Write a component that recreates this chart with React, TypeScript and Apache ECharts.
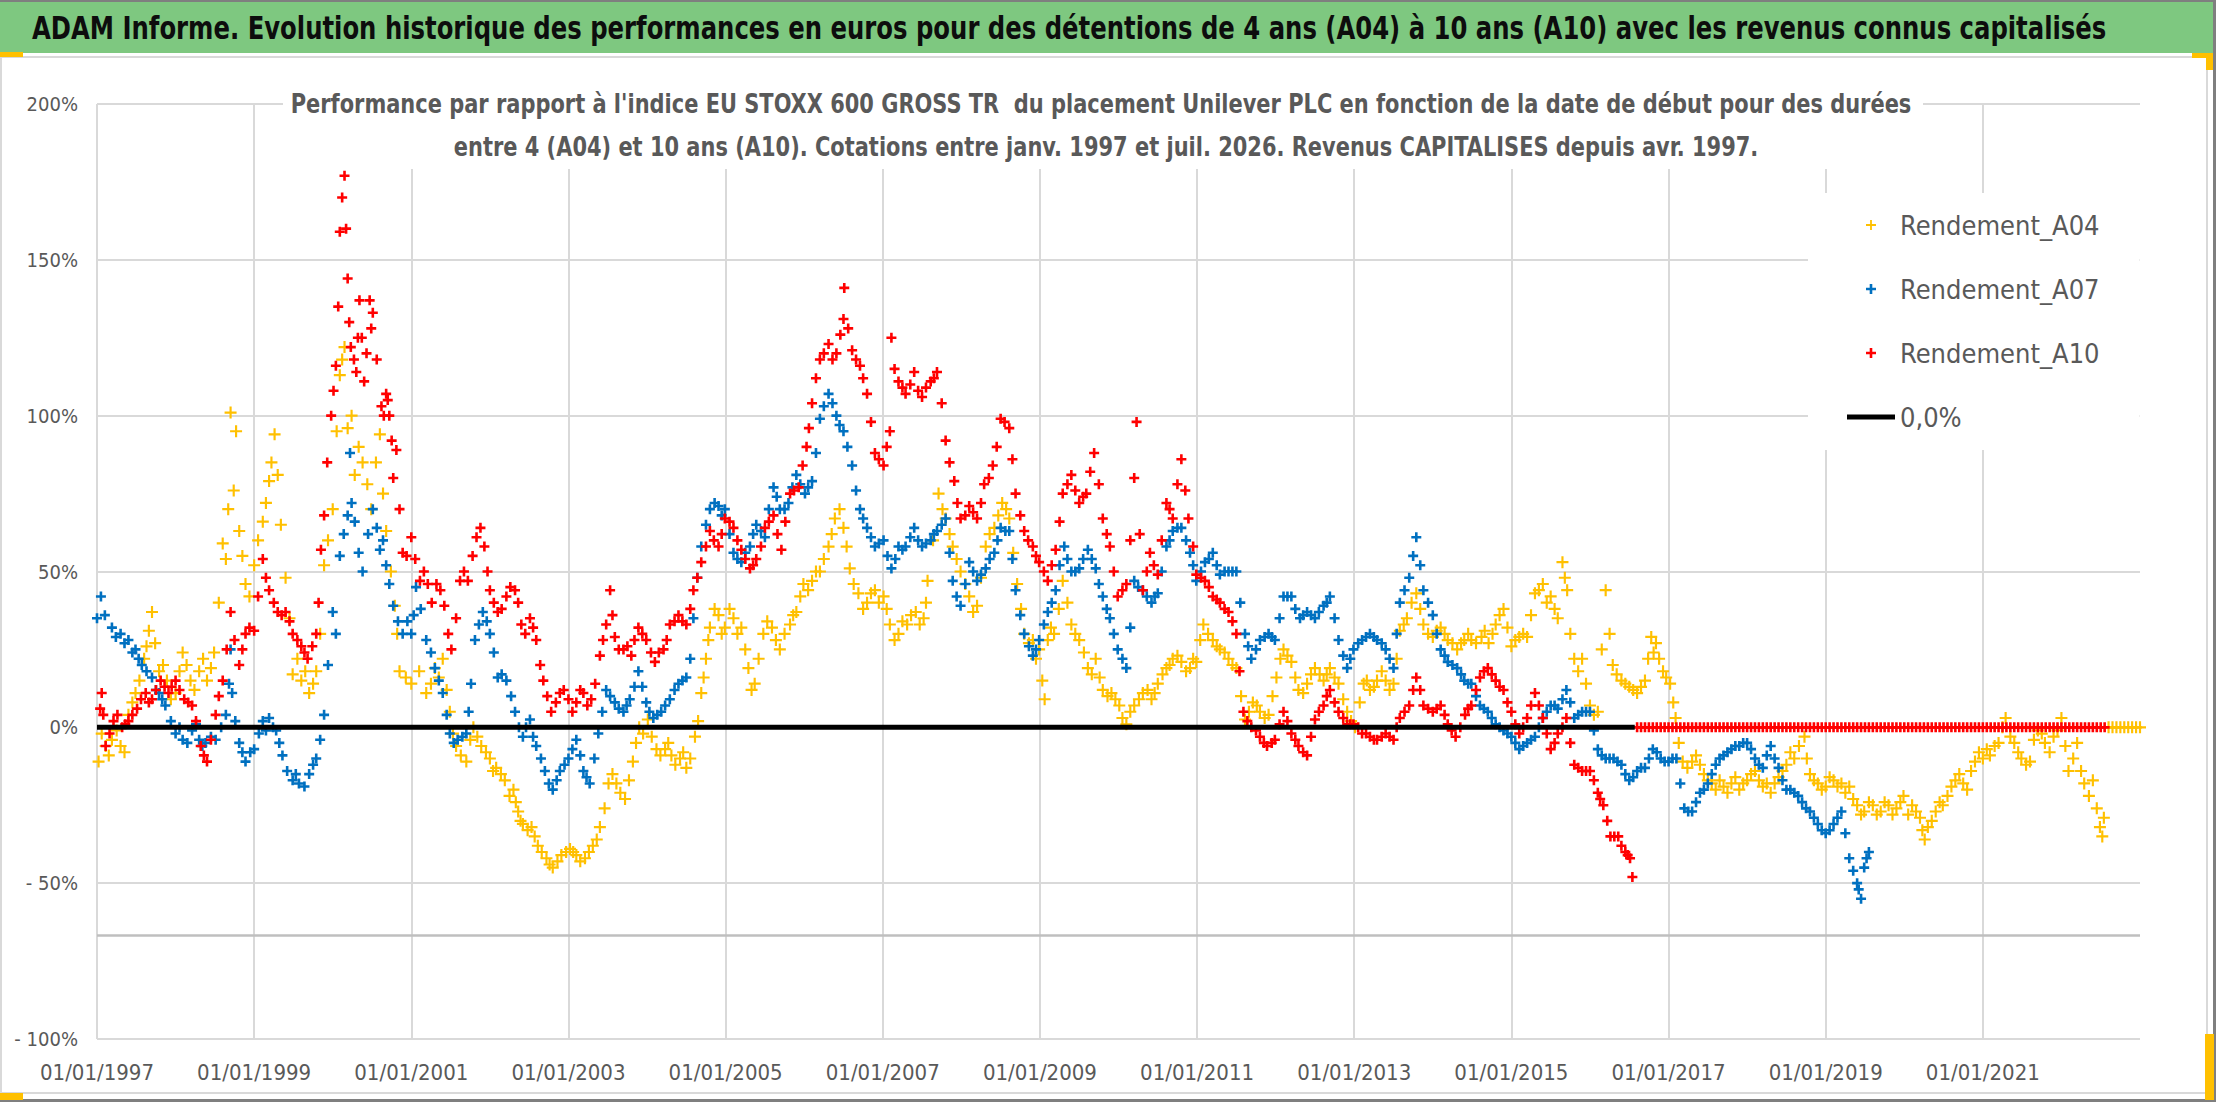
import { useRef, useEffect } from "react";
import * as echarts from "echarts";

const FONT = "'DejaVu Sans Condensed', 'Liberation Sans Narrow', 'Noto Sans', sans-serif";

const TITLE =
  "ADAM Informe. Evolution historique des performances en euros pour des détentions de 4 ans (A04) à 10 ans (A10) avec les revenus connus capitalisés";
const SUBTITLE_1 =
  "Performance par rapport à l'indice EU STOXX 600 GROSS TR  du placement Unilever PLC en fonction de la date de début pour des durées";
const SUBTITLE_2 =
  "entre 4 (A04) et 10 ans (A10). Cotations entre janv. 1997 et juil. 2026. Revenus CAPITALISES depuis avr. 1997.";

const SERIES_NAMES = ["Rendement_A04", "Rendement_A07", "Rendement_A10", "0,0%"];
const SERIES_COLORS = ["#FFC000", "#0070C0", "#FF0000", "#000000"];

// [année décimale, performance en %] : lecture du nuage (centre)
const A04_POINTS = [
  [1997.02, -11], [1997.11, -6], [1997.19, -4], [1997.3, -6], [1997.4, 4], [1997.49, 11], [1997.6, 22], [1997.66, 31],
  [1997.7, 37], [1997.79, 18], [1997.89, 15], [1998.0, 11], [1998.09, 24], [1998.19, 15], [1998.3, 18], [1998.4, 15],
  [1998.49, 24], [1998.6, 59], [1998.64, 54], [1998.7, 101], [1998.74, 76], [1998.81, 63], [1998.89, 46], [1999.0, 52],
  [1999.11, 66], [1999.19, 79], [1999.26, 94], [1999.3, 81], [1999.4, 48], [1999.49, 17], [1999.6, 15], [1999.7, 11],
  [1999.79, 18], [1999.89, 52], [2000.0, 70], [2000.09, 113], [2000.15, 122], [2000.19, 96], [2000.28, 81], [2000.38, 85],
  [2000.49, 70], [2000.6, 94], [2000.68, 63], [2000.79, 39], [2000.85, 18], [2001.0, 14], [2001.19, 11], [2001.3, 19],
  [2001.4, 22], [2001.49, 5], [2001.57, -6], [2001.7, -11], [2001.79, 0], [2001.89, -6], [2002.0, -10], [2002.08, -13],
  [2002.19, -17], [2002.3, -20], [2002.36, -27], [2002.42, -31], [2002.53, -32], [2002.61, -38], [2002.72, -42], [2002.8, -45],
  [2002.91, -41], [2003.02, -39], [2003.1, -41], [2003.21, -42], [2003.31, -38], [2003.4, -32], [2003.51, -18], [2003.61, -18],
  [2003.72, -23], [2003.82, -11], [2003.9, 0], [2004.01, 2.5], [2004.12, -7], [2004.23, -7], [2004.31, -9], [2004.42, -10],
  [2004.5, -13], [2004.61, -3], [2004.69, 11], [2004.75, 22], [2004.8, 32], [2004.91, 36], [2004.99, 32], [2005.1, 35],
  [2005.2, 32], [2005.29, 19], [2005.37, 14], [2005.48, 30], [2005.59, 32], [2005.69, 25], [2005.82, 33], [2005.9, 37],
  [2005.99, 46], [2006.1, 47], [2006.2, 50], [2006.31, 58], [2006.39, 67], [2006.5, 64], [2006.58, 51], [2006.69, 43],
  [2006.8, 40], [2006.9, 44], [2007.01, 42], [2007.09, 33], [2007.2, 30], [2007.31, 33], [2007.42, 37], [2007.52, 35],
  [2007.57, 47], [2007.71, 75], [2007.8, 67], [2007.89, 58], [2007.99, 50], [2008.1, 42], [2008.2, 39], [2008.31, 58],
  [2008.42, 64], [2008.52, 72], [2008.61, 67], [2008.71, 46], [2008.8, 30], [2008.91, 28], [2008.99, 25], [2009.06, 9],
  [2009.1, 28], [2009.18, 30], [2009.29, 47], [2009.4, 33], [2009.5, 28], [2009.61, 19], [2009.71, 22], [2009.8, 12],
  [2009.91, 11], [2010.01, 7], [2010.1, 1], [2010.2, 7], [2010.31, 11], [2010.42, 9], [2010.5, 14], [2010.61, 19],
  [2010.69, 22], [2010.8, 21], [2010.91, 19], [2010.99, 21], [2011.08, 33], [2011.2, 28], [2011.29, 25], [2011.4, 22],
  [2011.5, 19], [2011.61, 2.5], [2011.71, 8], [2011.8, 5], [2011.91, 4], [2012.01, 16], [2012.1, 25], [2012.2, 21],
  [2012.29, 12], [2012.4, 14], [2012.5, 19], [2012.61, 15], [2012.69, 19], [2012.8, 14], [2012.91, 5], [2013.01, 0],
  [2013.12, 14], [2013.2, 12], [2013.29, 15], [2013.4, 15], [2013.5, 14], [2013.58, 31], [2013.67, 35], [2013.79, 43],
  [2013.88, 33], [2014.0, 29], [2014.1, 32], [2014.19, 28], [2014.31, 25], [2014.4, 28], [2014.49, 28], [2014.62, 29],
  [2014.71, 27], [2014.8, 33], [2014.9, 38], [2015.0, 26], [2015.1, 29], [2015.2, 29], [2015.3, 43], [2015.4, 46],
  [2015.5, 42], [2015.59, 35], [2015.65, 53], [2015.71, 44], [2015.8, 22], [2015.9, 22], [2016.0, 7], [2016.1, 5],
  [2016.2, 44], [2016.29, 20], [2016.4, 15], [2016.5, 13], [2016.6, 11], [2016.7, 15], [2016.78, 29], [2016.84, 27],
  [2016.93, 18], [2017.02, 14], [2017.09, 3], [2017.18, -11], [2017.3, -11], [2017.4, -12], [2017.5, -17], [2017.6, -20],
  [2017.7, -19], [2017.8, -18], [2017.9, -20], [2018.0, -17], [2018.1, -14], [2018.2, -19], [2018.3, -21], [2018.4, -16],
  [2018.5, -12], [2018.6, -10], [2018.73, -3], [2018.8, -15], [2018.9, -18], [2019.0, -19], [2019.1, -17], [2019.2, -18],
  [2019.3, -19], [2019.4, -25], [2019.49, -27], [2019.6, -25], [2019.7, -27], [2019.8, -25], [2019.9, -26], [2019.99, -22],
  [2020.1, -25], [2020.2, -29], [2020.26, -36], [2020.3, -32], [2020.4, -27], [2020.49, -25], [2020.6, -19], [2020.7, -15],
  [2020.8, -20], [2020.9, -11], [2021.0, -10], [2021.09, -9], [2021.2, -5], [2021.29, 3], [2021.4, -5], [2021.49, -10],
  [2021.6, -11], [2021.7, -1], [2021.79, -5], [2021.9, -3], [2022.0, 3], [2022.09, -14], [2022.2, -5], [2022.29, -18],
  [2022.4, -17], [2022.49, -32], [2022.54, -29],
];
// lecture des bords du nuage, entre les points ci-dessus
const A04_SPREAD = [
  [1997.06, -2], [1997.15, -9], [1997.25, -1], [1997.35, -8], [1997.45, 8], [1997.54, 15], [1997.63, 26], [1997.74, 27],
  [1997.84, 20], [1997.94, 9], [1998.05, 18], [1998.14, 20], [1998.24, 12], [1998.35, 22], [1998.45, 19], [1998.55, 40],
  [1998.67, 70], [1998.77, 95], [1998.85, 55], [1998.94, 42], [1999.05, 60], [1999.15, 72], [1999.22, 85], [1999.34, 65],
  [1999.45, 35], [1999.55, 22], [1999.65, 18], [1999.75, 14], [1999.84, 30], [1999.94, 60], [2000.05, 95], [2000.12, 118],
  [2000.24, 100], [2000.33, 90], [2000.44, 78], [2000.55, 85], [2000.64, 75], [2000.74, 50], [2000.82, 30], [2000.93, 16],
  [2001.1, 18], [2001.25, 14], [2001.35, 16], [2001.45, 12], [2001.53, -2], [2001.63, -9], [2001.75, -4], [2001.84, -3],
  [2001.95, -8], [2002.04, -14], [2002.14, -15], [2002.25, -22], [2002.33, -24], [2002.39, -30], [2002.48, -33], [2002.57, -35],
  [2002.66, -40], [2002.76, -44], [2002.86, -43], [2002.97, -40], [2003.06, -40], [2003.15, -43], [2003.26, -40], [2003.36, -36],
  [2003.46, -26], [2003.56, -15], [2003.66, -21], [2003.77, -17], [2003.86, -5], [2003.95, -2], [2004.06, -3], [2004.17, -9],
  [2004.27, -5], [2004.36, -12], [2004.46, -8], [2004.55, -10], [2004.65, 2], [2004.72, 16], [2004.78, 28], [2004.86, 38],
  [2004.95, 30], [2005.05, 38], [2005.15, 30], [2005.25, 25], [2005.33, 12], [2005.42, 22], [2005.53, 34], [2005.64, 28],
  [2005.75, 30], [2005.86, 36], [2005.95, 42], [2006.05, 44], [2006.15, 50], [2006.25, 54], [2006.35, 62], [2006.45, 70],
  [2006.54, 58], [2006.63, 46], [2006.75, 38], [2006.85, 43], [2006.95, 40], [2007.05, 38], [2007.15, 28], [2007.25, 34],
  [2007.36, 36], [2007.47, 33], [2007.55, 40], [2007.64, 60], [2007.76, 70], [2007.85, 62], [2007.94, 54], [2008.05, 46],
  [2008.15, 37], [2008.25, 48], [2008.36, 62], [2008.47, 68], [2008.57, 70], [2008.66, 56], [2008.76, 38], [2008.86, 27],
  [2008.95, 22], [2009.03, 15], [2009.14, 32], [2009.24, 38], [2009.35, 40], [2009.45, 30], [2009.56, 24], [2009.66, 17],
  [2009.76, 16], [2009.86, 10], [2009.96, 9], [2010.05, 3], [2010.15, 5], [2010.26, 9], [2010.37, 12], [2010.46, 11],
  [2010.56, 17], [2010.65, 20], [2010.75, 23], [2010.86, 18], [2010.95, 22], [2011.04, 28], [2011.14, 30], [2011.25, 26],
  [2011.35, 24], [2011.45, 20], [2011.56, 10], [2011.66, 5], [2011.76, 7], [2011.86, 3], [2011.96, 10], [2012.06, 22],
  [2012.15, 23], [2012.25, 16], [2012.35, 11], [2012.45, 17], [2012.56, 17], [2012.65, 17], [2012.75, 16], [2012.86, 9],
  [2012.96, 2], [2013.07, 8], [2013.16, 15], [2013.25, 13], [2013.35, 18], [2013.45, 12], [2013.54, 22], [2013.63, 33],
  [2013.73, 40], [2013.84, 38], [2013.94, 30], [2014.05, 31], [2014.15, 30], [2014.25, 27], [2014.36, 27], [2014.45, 30],
  [2014.55, 27], [2014.66, 31], [2014.76, 30], [2014.85, 36], [2014.95, 32], [2015.05, 28], [2015.15, 30], [2015.25, 36],
  [2015.35, 44], [2015.45, 40], [2015.55, 38], [2015.68, 48], [2015.75, 30], [2015.85, 18], [2015.95, 14], [2016.05, 4],
  [2016.15, 25], [2016.25, 30], [2016.34, 17], [2016.45, 14], [2016.55, 12], [2016.65, 13], [2016.74, 22], [2016.81, 24],
  [2016.88, 22], [2016.97, 16], [2017.06, 8], [2017.13, -5], [2017.24, -13], [2017.35, -9], [2017.45, -15], [2017.55, -18],
  [2017.65, -17], [2017.75, -21], [2017.85, -16], [2017.95, -18], [2018.05, -15], [2018.15, -17], [2018.25, -18], [2018.35, -18],
  [2018.45, -14], [2018.55, -8], [2018.66, -6], [2018.76, -10], [2018.85, -17], [2018.95, -20], [2019.05, -16], [2019.15, -19],
  [2019.25, -21], [2019.35, -23], [2019.45, -28], [2019.55, -24], [2019.65, -28], [2019.75, -24], [2019.85, -28], [2019.95, -24],
  [2020.05, -28], [2020.15, -27], [2020.23, -33], [2020.35, -30], [2020.45, -24], [2020.55, -22], [2020.65, -17], [2020.75, -18],
  [2020.85, -14], [2020.95, -8], [2021.05, -7], [2021.15, -6], [2021.25, 0], [2021.35, -3], [2021.45, -8], [2021.55, -12],
  [2021.65, -4], [2021.75, -2], [2021.85, -8], [2021.95, -1], [2022.05, -6], [2022.15, -10], [2022.25, -14], [2022.35, -22],
  [2022.45, -26], [2022.52, -35],
];
const A04_ZERO_YEARS = [2022.6, 2022.65, 2022.7, 2022.75, 2022.8, 2022.85, 2022.9, 2022.95, 2023.0];

const A07_POINTS = [
  [1997.0, 35], [1997.05, 42], [1997.19, 32], [1997.3, 30], [1997.4, 28], [1997.49, 25], [1997.57, 20], [1997.7, 16],
  [1997.79, 11], [1997.87, 7], [1998.0, -2], [1998.09, -4], [1998.21, -1], [1998.3, -4], [1998.38, -5], [1998.51, -4],
  [1998.64, 4], [1998.7, 25], [1998.72, 11], [1998.81, -5], [1998.89, -11], [1999.0, -7], [1999.11, 2], [1999.19, 3],
  [1999.28, -1], [1999.36, -9], [1999.49, -17], [1999.57, -18], [1999.7, -15], [1999.79, -10], [1999.89, 4], [2000.0, 37],
  [2000.09, 55], [2000.19, 68], [2000.28, 66], [2000.38, 50], [2000.51, 70], [2000.6, 57], [2000.68, 52], [2000.77, 39],
  [2000.89, 30], [2001.0, 30], [2001.06, 45], [2001.19, 28], [2001.3, 19], [2001.4, 11], [2001.49, -2], [2001.59, -4],
  [2001.7, -2], [2001.76, 14], [2001.81, 28], [2001.91, 37], [2002.0, 30], [2002.1, 16], [2002.21, 15], [2002.32, 5],
  [2002.42, -3], [2002.51, 2.5], [2002.59, -6], [2002.7, -14], [2002.8, -20], [2002.89, -14], [2003.0, -10], [2003.1, -4],
  [2003.19, -14], [2003.27, -18], [2003.38, -2], [2003.48, 12], [2003.59, 8], [2003.7, 5], [2003.78, 9], [2003.89, 18],
  [2003.99, 8], [2004.08, 3], [2004.18, 5], [2004.29, 9], [2004.4, 14], [2004.5, 16], [2004.59, 35], [2004.69, 58],
  [2004.8, 70], [2004.91, 71], [2004.99, 70], [2005.1, 56], [2005.2, 53], [2005.31, 58], [2005.39, 65], [2005.5, 61],
  [2005.61, 77], [2005.69, 70], [2005.8, 72], [2005.9, 81], [2006.01, 75], [2006.1, 79], [2006.2, 99], [2006.31, 107],
  [2006.41, 100], [2006.5, 95], [2006.61, 84], [2006.71, 70], [2006.8, 64], [2006.9, 58], [2007.01, 60], [2007.11, 51],
  [2007.2, 58], [2007.29, 58], [2007.4, 64], [2007.5, 58], [2007.61, 60], [2007.69, 63], [2007.8, 67], [2007.89, 47],
  [2007.99, 39], [2008.1, 53], [2008.2, 47], [2008.31, 51], [2008.42, 56], [2008.5, 64], [2008.61, 63], [2008.69, 44],
  [2008.8, 30], [2008.91, 23], [2008.99, 28], [2009.1, 37], [2009.2, 44], [2009.31, 58], [2009.4, 50], [2009.5, 51],
  [2009.61, 57], [2009.71, 51], [2009.8, 42], [2009.89, 35], [2009.99, 25], [2010.1, 19], [2010.2, 47], [2010.31, 44],
  [2010.42, 40], [2010.5, 43], [2010.61, 58], [2010.69, 63], [2010.8, 64], [2010.91, 56], [2010.99, 47], [2011.1, 53],
  [2011.2, 56], [2011.29, 49], [2011.4, 50], [2011.5, 50], [2011.61, 30], [2011.69, 22], [2011.8, 28], [2011.91, 30],
  [2011.99, 28], [2012.1, 42], [2012.2, 42], [2012.31, 35], [2012.4, 37], [2012.5, 35], [2012.61, 39], [2012.69, 42],
  [2012.8, 28], [2012.91, 19], [2012.99, 25], [2013.1, 28], [2013.2, 30], [2013.29, 28], [2013.4, 25], [2013.5, 19],
  [2013.58, 40], [2013.7, 48], [2013.79, 61], [2013.88, 44], [2014.0, 36], [2014.1, 25], [2014.19, 21], [2014.31, 19],
  [2014.4, 15], [2014.49, 14], [2014.6, 7], [2014.7, 5], [2014.8, 1], [2014.9, -1], [2015.0, -3], [2015.1, -7],
  [2015.2, -5], [2015.3, -3], [2015.4, 3], [2015.5, 7], [2015.59, 6], [2015.7, 12], [2015.8, 3], [2015.9, 5],
  [2016.0, 5], [2016.1, -7], [2016.2, -10], [2016.3, -10], [2016.4, -12], [2016.5, -17], [2016.6, -14], [2016.7, -13],
  [2016.8, -7], [2016.9, -10], [2017.0, -11], [2017.1, -10], [2017.2, -26], [2017.3, -27], [2017.4, -21], [2017.5, -18],
  [2017.6, -12], [2017.7, -9], [2017.8, -7], [2017.9, -6], [2018.0, -5], [2018.1, -10], [2018.2, -13], [2018.3, -6],
  [2018.4, -13], [2018.5, -20], [2018.6, -21], [2018.7, -24], [2018.8, -27], [2018.9, -31], [2019.0, -34], [2019.1, -31],
  [2019.2, -27], [2019.3, -42], [2019.4, -50], [2019.45, -55], [2019.49, -45], [2019.55, -40],
];
const A07_SPREAD = [
  [1997.1, 36], [1997.24, 29], [1997.35, 27], [1997.45, 24], [1997.53, 22], [1997.63, 18], [1997.75, 12], [1997.83, 9],
  [1997.94, 2], [1998.05, 0], [1998.15, -5], [1998.26, 1], [1998.34, -6], [1998.45, -3], [1998.58, 0], [1998.68, 14],
  [1998.76, 2], [1998.85, -8], [1998.95, -8], [1999.06, -2], [1999.15, -1], [1999.24, 0], [1999.32, -5], [1999.42, -14],
  [1999.53, -15], [1999.64, -19], [1999.75, -12], [1999.84, -4], [1999.94, 20], [2000.04, 30], [2000.14, 62], [2000.22, 88],
  [2000.24, 72], [2000.33, 56], [2000.45, 62], [2000.56, 64], [2000.64, 60], [2000.72, 46], [2000.83, 34], [2000.95, 34],
  [2001.03, 36], [2001.12, 38], [2001.25, 24], [2001.35, 15], [2001.45, 4], [2001.54, -5], [2001.65, -3], [2001.73, 5],
  [2001.86, 33], [2001.96, 34], [2002.05, 24], [2002.15, 17], [2002.27, 10], [2002.37, 0], [2002.46, 0], [2002.55, -3],
  [2002.65, -10], [2002.75, -18], [2002.85, -17], [2002.95, -12], [2003.05, -7], [2003.15, -9], [2003.23, -16], [2003.33, -10],
  [2003.43, 5], [2003.53, 10], [2003.64, 6], [2003.74, 7], [2003.84, 13], [2003.94, 13], [2004.03, 5], [2004.13, 4],
  [2004.23, 7], [2004.35, 12], [2004.45, 15], [2004.55, 22], [2004.64, 48], [2004.75, 65], [2004.86, 72], [2004.95, 68],
  [2005.05, 62], [2005.15, 54], [2005.25, 56], [2005.35, 62], [2005.45, 63], [2005.55, 70], [2005.65, 74], [2005.75, 70],
  [2005.85, 77], [2005.95, 78], [2006.05, 77], [2006.15, 88], [2006.25, 103], [2006.36, 104], [2006.45, 97], [2006.55, 90],
  [2006.66, 76], [2006.75, 67], [2006.85, 61], [2006.95, 59], [2007.06, 55], [2007.16, 54], [2007.25, 57], [2007.35, 61],
  [2007.45, 60], [2007.55, 59], [2007.65, 62], [2007.75, 65], [2007.85, 56], [2007.94, 42], [2008.05, 46], [2008.15, 50],
  [2008.25, 49], [2008.36, 54], [2008.46, 60], [2008.56, 63], [2008.65, 54], [2008.75, 36], [2008.86, 26], [2008.95, 25],
  [2009.05, 33], [2009.15, 40], [2009.25, 52], [2009.35, 54], [2009.45, 50], [2009.55, 54], [2009.66, 54], [2009.75, 46],
  [2009.85, 38], [2009.94, 30], [2010.05, 22], [2010.15, 32], [2010.25, 45], [2010.36, 42], [2010.46, 42], [2010.55, 50],
  [2010.65, 60], [2010.75, 64], [2010.86, 60], [2010.95, 52], [2011.05, 50], [2011.15, 54], [2011.25, 52], [2011.35, 50],
  [2011.45, 50], [2011.55, 40], [2011.65, 26], [2011.75, 25], [2011.86, 29], [2011.95, 29], [2012.05, 35], [2012.15, 42],
  [2012.25, 38], [2012.35, 36], [2012.45, 36], [2012.55, 37], [2012.65, 40], [2012.75, 35], [2012.86, 23], [2012.95, 22],
  [2013.05, 27], [2013.15, 29], [2013.25, 29], [2013.35, 27], [2013.45, 22], [2013.54, 30], [2013.64, 44], [2013.75, 55],
  [2013.84, 52], [2013.94, 40], [2014.05, 30], [2014.15, 23], [2014.25, 20], [2014.36, 17], [2014.45, 14], [2014.55, 10],
  [2014.65, 6], [2014.75, 3], [2014.85, 0], [2014.95, -2], [2015.05, -5], [2015.15, -6], [2015.25, -4], [2015.35, 0],
  [2015.45, 5], [2015.55, 7], [2015.65, 9], [2015.75, 8], [2015.85, 4], [2015.95, 5], [2016.05, -1], [2016.15, -9],
  [2016.25, -10], [2016.35, -11], [2016.45, -15], [2016.55, -16], [2016.65, -13], [2016.75, -10], [2016.85, -8], [2016.95, -11],
  [2017.05, -10], [2017.15, -18], [2017.25, -27], [2017.35, -24], [2017.45, -20], [2017.55, -15], [2017.65, -10], [2017.75, -8],
  [2017.85, -6], [2017.95, -5], [2018.05, -7], [2018.15, -12], [2018.25, -9], [2018.35, -10], [2018.45, -17], [2018.55, -20],
  [2018.65, -22], [2018.75, -26], [2018.85, -29], [2018.95, -33], [2019.05, -33], [2019.15, -29], [2019.25, -34], [2019.35, -46],
  [2019.42, -52], [2019.52, -42],
];

const A10_POINTS = [
  [1997.04, 6], [1997.06, 11], [1997.11, -6], [1997.21, 2], [1997.32, 0], [1997.4, 2], [1997.51, 6], [1997.62, 11],
  [1997.7, 9], [1997.81, 15], [1997.91, 11], [1998.0, 15], [1998.11, 9], [1998.21, 7], [1998.32, -6], [1998.4, -11],
  [1998.51, 4], [1998.6, 15], [1998.7, 37], [1998.81, 20], [1998.89, 30], [1999.0, 31], [1999.11, 54], [1999.19, 44],
  [1999.3, 37], [1999.4, 37], [1999.49, 30], [1999.6, 26], [1999.68, 22], [1999.79, 30], [1999.85, 57], [1999.89, 68],
  [1999.98, 100], [2000.04, 116], [2000.09, 159], [2000.15, 177], [2000.19, 144], [2000.23, 122], [2000.3, 114], [2000.34, 137],
  [2000.4, 111], [2000.47, 137], [2000.51, 133], [2000.62, 103], [2000.68, 107], [2000.72, 100], [2000.77, 80], [2000.81, 89],
  [2000.89, 56], [2001.0, 61], [2001.11, 47], [2001.21, 46], [2001.32, 46], [2001.42, 39], [2001.51, 25], [2001.62, 47],
  [2001.72, 47], [2001.83, 61], [2001.93, 58], [2002.0, 44], [2002.1, 37], [2002.21, 42], [2002.32, 44], [2002.4, 33],
  [2002.51, 35], [2002.59, 28], [2002.68, 15], [2002.78, 5], [2002.89, 11], [2003.0, 9], [2003.1, 8], [2003.19, 11],
  [2003.29, 9], [2003.4, 23], [2003.48, 33], [2003.53, 44], [2003.59, 29], [2003.7, 25], [2003.8, 23], [2003.89, 32],
  [2003.99, 28], [2004.1, 21], [2004.21, 25], [2004.29, 33], [2004.4, 36], [2004.5, 33], [2004.59, 44], [2004.69, 53],
  [2004.8, 63], [2004.91, 58], [2004.99, 67], [2005.1, 64], [2005.2, 57], [2005.31, 51], [2005.39, 54], [2005.5, 64],
  [2005.61, 68], [2005.71, 57], [2005.82, 75], [2005.93, 77], [2006.03, 90], [2006.1, 104], [2006.2, 118], [2006.31, 123],
  [2006.41, 120], [2006.5, 131], [2006.51, 141], [2006.61, 121], [2006.71, 116], [2006.8, 107], [2006.9, 88], [2007.01, 84],
  [2007.09, 95], [2007.11, 125], [2007.2, 111], [2007.29, 107], [2007.4, 114], [2007.5, 106], [2007.61, 111], [2007.69, 114],
  [2007.8, 92], [2007.91, 79], [2007.99, 67], [2008.1, 71], [2008.2, 67], [2008.29, 78], [2008.4, 84], [2008.5, 99],
  [2008.61, 96], [2008.69, 75], [2008.8, 63], [2008.91, 58], [2008.99, 53], [2009.1, 47], [2009.2, 57], [2009.29, 75],
  [2009.4, 81], [2009.5, 72], [2009.59, 75], [2009.69, 88], [2009.8, 67], [2009.89, 58], [2009.99, 42], [2010.1, 46],
  [2010.2, 80], [2010.23, 98], [2010.31, 44], [2010.4, 56], [2010.5, 49], [2010.61, 72], [2010.69, 67], [2010.8, 86],
  [2010.89, 67], [2010.99, 49], [2011.1, 47], [2011.2, 42], [2011.29, 40], [2011.4, 37], [2011.5, 30], [2011.59, 5],
  [2011.69, 0], [2011.8, -3], [2011.89, -6], [2011.99, -4], [2012.1, 5], [2012.2, -2], [2012.29, -6], [2012.4, -9],
  [2012.5, 2.5], [2012.61, 7], [2012.69, 12], [2012.8, 5], [2012.91, 1], [2012.99, 1], [2013.1, -2], [2013.2, -3],
  [2013.29, -4], [2013.4, -2], [2013.5, -4], [2013.58, 3], [2013.7, 7], [2013.79, 16], [2013.88, 7], [2014.0, 5],
  [2014.1, 7], [2014.19, 1], [2014.29, -3], [2014.41, 4], [2014.49, 7], [2014.6, 16], [2014.7, 19], [2014.8, 15],
  [2014.9, 12], [2015.0, 5], [2015.1, -2], [2015.2, 3], [2015.3, 11], [2015.4, 3], [2015.5, -7], [2015.59, -2],
  [2015.7, 3], [2015.8, -12], [2015.9, -14], [2016.0, -14], [2016.1, -21], [2016.17, -25], [2016.26, -35], [2016.36, -35],
  [2016.45, -40], [2016.51, -42], [2016.54, -48],
];
const A10_SPREAD = [
  [1997.08, 4], [1997.16, -2], [1997.26, 4], [1997.36, 1], [1997.45, 4], [1997.56, 9], [1997.66, 8], [1997.75, 12],
  [1997.86, 13], [1997.95, 13], [1998.05, 12], [1998.16, 8], [1998.26, 2], [1998.36, -9], [1998.45, -4], [1998.55, 10],
  [1998.65, 25], [1998.75, 28], [1998.85, 25], [1998.94, 32], [1999.05, 42], [1999.15, 48], [1999.25, 40], [1999.35, 36],
  [1999.45, 34], [1999.55, 28], [1999.64, 24], [1999.74, 26], [1999.82, 40], [1999.93, 85], [2000.01, 108], [2000.07, 135],
  [2000.12, 170], [2000.17, 160], [2000.21, 130], [2000.27, 118], [2000.32, 125], [2000.37, 125], [2000.43, 120], [2000.49, 128],
  [2000.56, 118], [2000.65, 100], [2000.7, 105], [2000.75, 92], [2000.85, 70], [2000.94, 55], [2001.05, 54], [2001.16, 50],
  [2001.26, 40], [2001.37, 44], [2001.47, 30], [2001.57, 35], [2001.67, 50], [2001.78, 55], [2001.88, 64], [2001.97, 50],
  [2002.05, 40], [2002.15, 38], [2002.26, 45], [2002.36, 40], [2002.45, 30], [2002.55, 32], [2002.64, 20], [2002.73, 10],
  [2002.84, 8], [2002.94, 12], [2003.05, 5], [2003.15, 12], [2003.24, 7], [2003.34, 14], [2003.44, 28], [2003.56, 36],
  [2003.64, 25], [2003.75, 26], [2003.84, 28], [2003.94, 30], [2004.05, 24], [2004.15, 24], [2004.25, 28], [2004.35, 34],
  [2004.45, 34], [2004.55, 38], [2004.64, 48], [2004.75, 58], [2004.85, 60], [2004.95, 62], [2005.05, 66], [2005.15, 60],
  [2005.25, 54], [2005.35, 52], [2005.45, 58], [2005.55, 66], [2005.66, 62], [2005.76, 66], [2005.87, 76], [2005.98, 84],
  [2006.06, 96], [2006.15, 112], [2006.25, 120], [2006.36, 118], [2006.46, 126], [2006.56, 128], [2006.66, 118], [2006.75, 112],
  [2006.85, 98], [2006.95, 86], [2007.05, 90], [2007.15, 115], [2007.25, 109], [2007.35, 110], [2007.45, 108], [2007.55, 109],
  [2007.65, 112], [2007.75, 104], [2007.85, 85], [2007.95, 72], [2008.05, 68], [2008.15, 69], [2008.25, 72], [2008.35, 80],
  [2008.45, 90], [2008.55, 98], [2008.65, 86], [2008.75, 68], [2008.85, 60], [2008.95, 55], [2009.05, 50], [2009.15, 52],
  [2009.25, 66], [2009.35, 78], [2009.45, 76], [2009.55, 74], [2009.64, 82], [2009.75, 78], [2009.85, 62], [2009.94, 50],
  [2010.05, 44], [2010.15, 60], [2010.27, 62], [2010.36, 50], [2010.45, 52], [2010.55, 60], [2010.65, 70], [2010.75, 78],
  [2010.85, 76], [2010.95, 58], [2011.05, 48], [2011.15, 45], [2011.25, 41], [2011.35, 38], [2011.45, 34], [2011.54, 18],
  [2011.64, 2], [2011.75, -1], [2011.85, -5], [2011.95, -5], [2012.05, 1], [2012.15, 2], [2012.25, -4], [2012.35, -8],
  [2012.45, -3], [2012.55, 5], [2012.65, 10], [2012.75, 8], [2012.86, 3], [2012.95, 1], [2013.05, 0], [2013.15, -2],
  [2013.25, -4], [2013.35, -3], [2013.45, -3], [2013.54, 0], [2013.64, 5], [2013.75, 12], [2013.84, 12], [2013.94, 6],
  [2014.05, 6], [2014.15, 4], [2014.24, -1], [2014.35, 0], [2014.45, 6], [2014.55, 12], [2014.65, 18], [2014.75, 17],
  [2014.85, 13], [2014.95, 8], [2015.05, 1], [2015.15, 0], [2015.25, 7], [2015.35, 7], [2015.45, -2], [2015.55, -5],
  [2015.65, 0], [2015.75, -5], [2015.85, -13], [2015.95, -14], [2016.05, -17], [2016.13, -23], [2016.22, -30], [2016.31, -35],
  [2016.4, -38], [2016.48, -41],
];
const A10_ZERO_YEARS = [
  2016.6, 2016.65, 2016.7, 2016.75, 2016.8, 2016.85, 2016.9, 2016.95, 2017.0, 2017.05, 2017.1, 2017.15, 2017.2, 2017.25,
  2017.3, 2017.35, 2017.4, 2017.45, 2017.5, 2017.55, 2017.6, 2017.65, 2017.7, 2017.75, 2017.8, 2017.85, 2017.9, 2017.95,
  2018.0, 2018.05, 2018.1, 2018.15, 2018.2, 2018.25, 2018.3, 2018.35, 2018.4, 2018.45, 2018.5, 2018.55, 2018.6, 2018.65,
  2018.7, 2018.75, 2018.8, 2018.85, 2018.9, 2018.95, 2019.0, 2019.05, 2019.1, 2019.15, 2019.2, 2019.25, 2019.3, 2019.35,
  2019.4, 2019.45, 2019.5, 2019.55, 2019.6, 2019.65, 2019.7, 2019.75, 2019.8, 2019.85, 2019.9, 2019.95, 2020.0, 2020.05,
  2020.1, 2020.15, 2020.2, 2020.25, 2020.3, 2020.35, 2020.4, 2020.45, 2020.5, 2020.55, 2020.6, 2020.65, 2020.7, 2020.75,
  2020.8, 2020.85, 2020.9, 2020.95, 2021.0, 2021.05, 2021.1, 2021.15, 2021.2, 2021.25, 2021.3, 2021.35, 2021.4, 2021.45,
  2021.5, 2021.55, 2021.6, 2021.65, 2021.7, 2021.75, 2021.8, 2021.85, 2021.9, 2021.95, 2022.0, 2022.05, 2022.1, 2022.15,
  2022.2, 2022.25, 2022.3, 2022.35, 2022.4, 2022.45, 2022.5, 2022.55,
];

// ligne 0,0% (fin = dernière date A10)
const ZERO_LINE = [[1997, 0], [2016.57, 0]];
// ligne grise horizontale du bas
const AXIS_CROSS = -66.7;

const PLUS_THIN = "path://M4.1,0H5.9V4.1H10V5.9H5.9V10H4.1V5.9H0V4.1H4.1Z";
const PLUS_BOLD = "path://M3.7,0H6.3V3.7H10V6.3H6.3V10H3.7V6.3H0V3.7H3.7Z";

// échelle horizontale pour retrouver la largeur du texte d'origine
function fitScale(text: string, font: string, target: number) {
  const ctx = document.createElement("canvas").getContext("2d");
  if (!ctx) return 1;
  ctx.font = font;
  const w = ctx.measureText(text).width;
  return w > 0 ? target / w : 1;
}

function buildOption() {
  const titleScale = fitScale(TITLE, `bold 32px ${FONT}`, 2076);
  const subScale = fitScale(SUBTITLE_1, `bold 27px ${FONT}`, 1622);

  const rect = (x: number, y: number, w: number, h: number, fill: string, z = 1) => ({
    type: "rect",
    z,
    silent: true,
    shape: { x, y, width: w, height: h },
    style: { fill },
  });

  const text = (t: string, x: number, y: number, size: number, fill: string, align: string, scaleX: number) => ({
    type: "text",
    x,
    y,
    z: 20,
    scaleX,
    silent: true,
    style: {
      text: t,
      fill,
      fontSize: size,
      fontWeight: "bold",
      fontFamily: FONT,
      align,
      textAlign: align,
      verticalAlign: "middle",
      textVerticalAlign: "middle",
    },
  });

  const scatter = (name: string, data: number[][], color: string, symbol: string, size: number) => ({
    name,
    type: "scatter",
    data,
    symbol,
    symbolSize: size,
    itemStyle: { color, opacity: 1 },
    emphasis: { disabled: true },
    z: 2,
  });

  const zeros = (years: number[]) => years.map((y) => [y, 0]);

  return {
    animation: false,
    backgroundColor: "#ffffff",
    grid: { left: 97, right: 76, top: 104, bottom: 63, containLabel: false },
    xAxis: {
      type: "value",
      min: 1997,
      max: 2023,
      interval: 2,
      axisLine: { show: false },
      axisTick: { show: false },
      axisLabel: {
        formatter: (v: number) => "01/01/" + v,
        margin: 22,
        fontSize: 22,
        color: "#595959",
        fontFamily: FONT,
        showMaxLabel: false,
      },
      splitLine: { show: true, showMinLine: true, showMaxLine: false, lineStyle: { color: "#d9d9d9", width: 2 } },
    },
    yAxis: {
      type: "value",
      min: -100,
      max: 200,
      interval: 50,
      axisLine: { show: false },
      axisTick: { show: false },
      axisLabel: {
        formatter: (v: number) => (v < 0 ? `- ${-v}%` : `${v}%`),
        margin: 19,
        fontSize: 20,
        color: "#595959",
        fontFamily: FONT,
      },
      splitLine: { show: true, lineStyle: { color: "#d9d9d9", width: 2 } },
    },
    legend: {
      orient: "vertical",
      left: 1808,
      top: 193,
      padding: [14, 40, 15, 39],
      backgroundColor: "#ffffff",
      itemWidth: 48,
      itemHeight: 10,
      itemGap: 28,
      selectedMode: false,
      textStyle: { fontSize: 27, color: "#595959", fontFamily: FONT, lineHeight: 36 },
      data: [
        SERIES_NAMES[0],
        SERIES_NAMES[1],
        SERIES_NAMES[2],
        { name: SERIES_NAMES[3], icon: "path://M0,0H48V5H0Z", itemStyle: { color: "#000000" } },
      ],
    },
    graphic: {
      elements: [
        rect(0, 0, 2216, 2, "#7f7f7f"),
        rect(0, 2, 2213, 51, "#7ec880"),
        rect(2213, 0, 3, 1102, "#7f7f7f"),
        rect(0, 56, 2207, 2, "#d9d9d9"),
        rect(0, 57, 2, 1036, "#d9d9d9"),
        rect(2206, 57, 2, 1036, "#d9d9d9"),
        rect(0, 1092, 2208, 2, "#d9d9d9"),
        rect(0, 1099, 2216, 3, "#7f7f7f"),
        rect(0, 52, 23, 5, "#ffc000", 2),
        rect(2192, 53, 21, 5, "#ffc000", 2),
        rect(2206, 53, 7, 17, "#ffc000", 2),
        rect(0, 1093, 23, 7, "#ffc000", 2),
        rect(2205, 1034, 9, 66, "#ffc000", 2),
        rect(283, 85, 1640, 84, "#ffffff", 10),
        text(TITLE, 32, 28, 32, "#0d0d0d", "left", titleScale),
        text(SUBTITLE_1, 1101, 104, 27, "#595959", "center", subScale),
        text(SUBTITLE_2, 1106, 147, 27, "#595959", "center", subScale),
      ],
    },
    series: [
      scatter(SERIES_NAMES[0], [...A04_POINTS, ...A04_SPREAD, ...zeros(A04_ZERO_YEARS)], SERIES_COLORS[0], PLUS_THIN, 12),
      scatter(SERIES_NAMES[1], [...A07_POINTS, ...A07_SPREAD], SERIES_COLORS[1], PLUS_BOLD, 10),
      scatter(SERIES_NAMES[2], [...A10_POINTS, ...A10_SPREAD, ...zeros(A10_ZERO_YEARS)], SERIES_COLORS[2], PLUS_BOLD, 10),
      {
        name: SERIES_NAMES[3],
        type: "line",
        data: ZERO_LINE,
        symbol: "none",
        lineStyle: { color: SERIES_COLORS[3], width: 5 },
        itemStyle: { color: SERIES_COLORS[3] },
        emphasis: { disabled: true },
        z: 3,
        markLine: {
          silent: true,
          symbol: "none",
          label: { show: false },
          lineStyle: { color: "#bfbfbf", width: 2.5, type: "solid" },
          data: [{ yAxis: AXIS_CROSS }],
        },
      },
    ],
  };
}

const App = () => {
  const chartRef = useRef<HTMLDivElement>(null);

  useEffect(() => {
    const chart = echarts.init(chartRef.current, null, { renderer: "svg" });
    chart.setOption(buildOption() as any);
    return () => {
      chart.dispose();
    };
  }, []);

  return (
    <div
      ref={chartRef}
      style={{ position: "fixed", left: 0, top: 0, width: "2216px", height: "1102px", background: "#fff" }}
    ></div>
  );
};

export default App;
